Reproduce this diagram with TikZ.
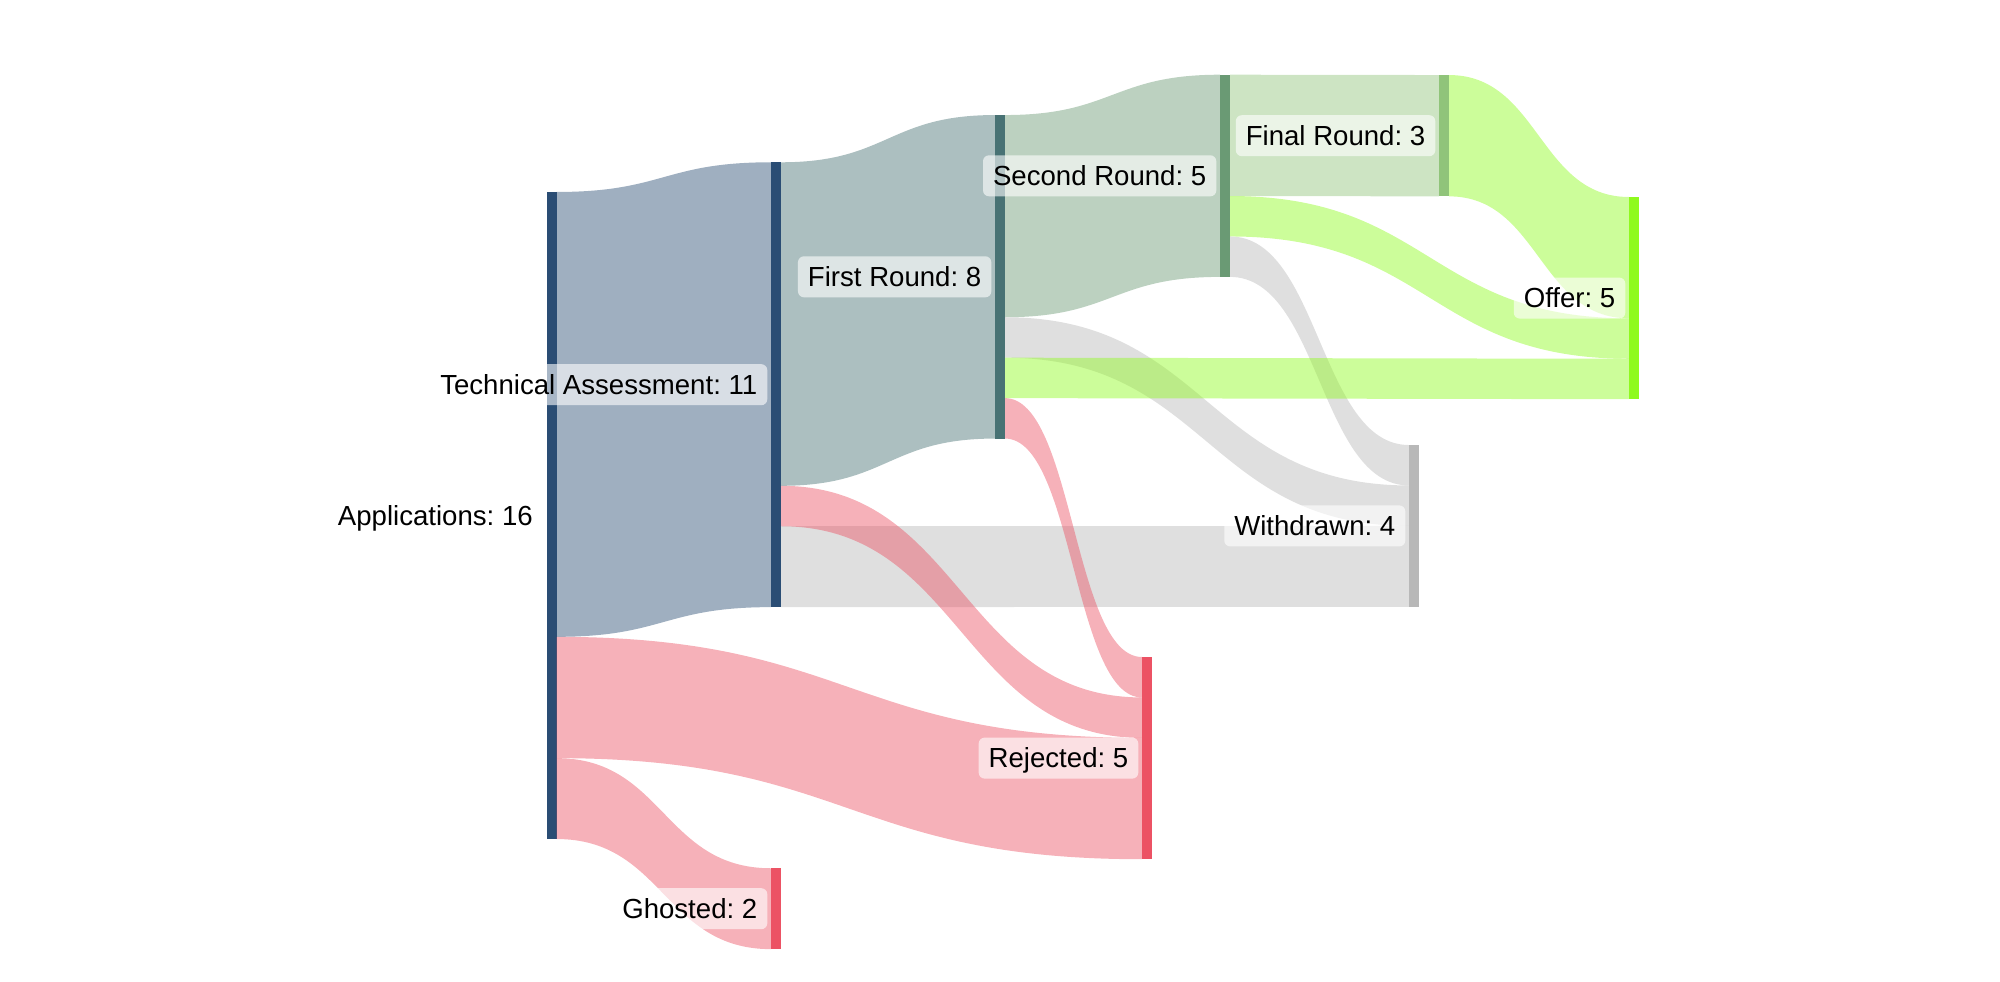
\documentclass[tikz,border=0pt]{standalone}
\usepackage{fontspec}
\setmainfont{Liberation Sans}
\usepackage{tikz}
\usetikzlibrary{calc,positioning}
\frenchspacing

\definecolor{cNavy}{HTML}{2A4D74}
\definecolor{cTeal}{HTML}{487274}
\definecolor{cSage}{HTML}{6A9A74}
\definecolor{cLeaf}{HTML}{90C47A}
\definecolor{cLime}{HTML}{8FFA1E}
\definecolor{cGrey}{HTML}{B8B8B8}
\definecolor{cRed}{HTML}{EC5264}

\tikzset{
  bar/.style={rectangle, fill=#1, draw=none, inner sep=0pt, outer sep=0pt, minimum width=10pt},
  link/.style={fill=#1, fill opacity=0.45},
  lbl/.style={fill=white, fill opacity=0.6, text opacity=1, rounded corners=6pt,
    inner xsep=10pt, inner ysep=7pt, text height=23pt, text depth=4pt,
    font=\fontsize{27.6}{33}\selectfont},
}
\def\flow{40.44}

% band from #2 (offset #3) to #4 (offset #5), width #6 units
\newcommand{\flowband}[6]{%
  \path ($(#2.north east)+(0,#3*\flow)$) coordinate (s1)
        ($(s1)+(0,#6*\flow)$) coordinate (s2)
        ($(#4.north west)+(0,#5*\flow)$) coordinate (t1)
        ($(t1)+(0,#6*\flow)$) coordinate (t2)
        ($(s1)!0.5!(t1)$) coordinate (m);
  \fill[link=#1] (s1) .. controls (m |- s1) and (m |- t1) .. (t1) -- (t2)
    .. controls (m |- t2) and (m |- s2) .. (s2) -- cycle;
}

\begin{document}
\begin{tikzpicture}[x=1pt,y=-1pt]
    \useasboundingbox (0,0) rectangle (2000,982);
    % stages
    \node[bar=cNavy, minimum height=16*\flow] (app) at (551.5,515.5) {};
    \node[bar=cNavy, minimum height=11*\flow] (tech) at (776,384.7) {};
    \node[bar=cRed, minimum height=2*\flow] (ghost) at (776,908.7) {};
    \node[bar=cTeal, minimum height=8*\flow] (first) at (1000,276.8) {};
    \node[bar=cSage, minimum height=5*\flow] (second) at (1225,175.8) {};
    \node[bar=cLeaf, minimum height=3*\flow] (final) at (1444,135.7) {};
    \node[bar=cLime, minimum height=5*\flow] (offer) at (1634,298.1) {};
    \node[bar=cGrey, minimum height=4*\flow] (withdrawn) at (1414,525.9) {};
    \node[bar=cRed, minimum height=5*\flow] (rejected) at (1147,758.1) {};
    % flows
    \flowband{cNavy}{app}{0}{tech}{0}{11}
    \flowband{cTeal}{tech}{0}{first}{0}{8}
    \flowband{cSage}{first}{0}{second}{0}{5}
    \flowband{cLeaf}{second}{0}{final}{0}{3}
    \flowband{cGrey}{tech}{9}{withdrawn}{2}{2}
    \flowband{cGrey}{first}{5}{withdrawn}{1}{1}
    \flowband{cGrey}{second}{4}{withdrawn}{0}{1}
    \flowband{cRed}{app}{11}{rejected}{2}{3}
    \flowband{cRed}{app}{14}{ghost}{0}{2}
    \flowband{cRed}{tech}{8}{rejected}{1}{1}
    \flowband{cRed}{first}{7}{rejected}{0}{1}
    \flowband{cLime}{first}{6}{offer}{4}{1}
    \flowband{cLime}{second}{3}{offer}{3}{1}
    \flowband{cLime}{final}{0}{offer}{0}{3}
    % labels
    \node[lbl, left=3.5pt of app] (appl) {Applications: 16};
    \node[lbl, left=3.5pt of tech] (techl) {Technical Assessment: 11};
    \node[lbl, left=3.5pt of ghost] (ghostl) {Ghosted: 2};
    \node[lbl, left=3.5pt of first] (firstl) {First Round: 8};
    \node[lbl, left=3.5pt of second] (secondl) {Second Round: 5};
    \node[lbl, left=3.5pt of final] (finall) {Final Round: 3};
    \node[lbl, left=3.5pt of offer] (offerl) {Offer: 5};
    \node[lbl, left=3.5pt of withdrawn] (withdrawnl) {Withdrawn: 4};
    \node[lbl, left=3.5pt of rejected] (rejectedl) {Rejected: 5};
\end{tikzpicture}
\end{document}
